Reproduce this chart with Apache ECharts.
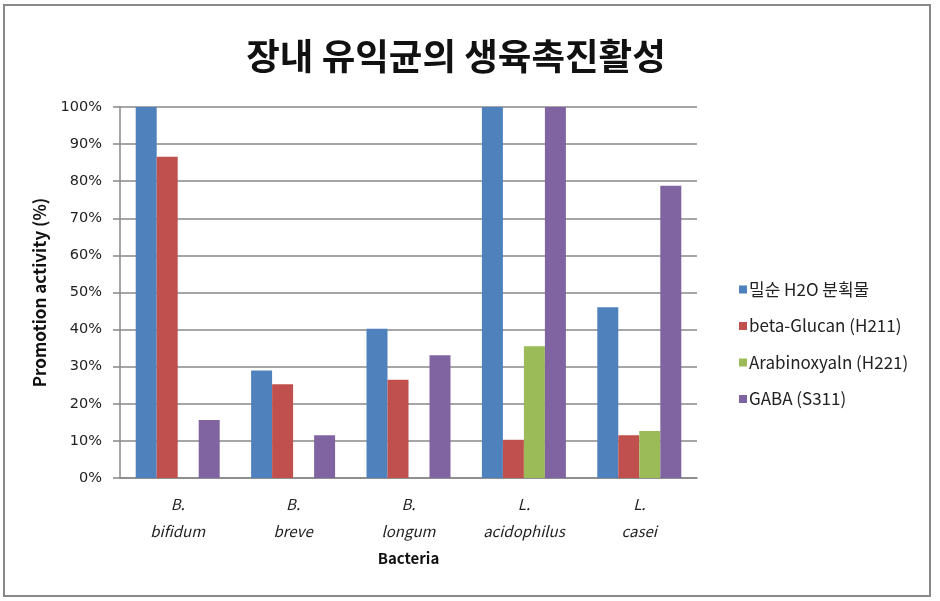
<!DOCTYPE html>
<html><head><meta charset="utf-8">
<script src="https://cdn.jsdelivr.net/npm/echarts@6/dist/echarts.min.js"></script>
<style>html,body{margin:0;padding:0;background:#fff}#c{width:940px;height:601px}</style>
</head><body><div id="c"></div>
<script>
const titleText = '장내 유익균의 생육촉진활성';
const categories = ['B.\nbifidum', 'B.\nbreve', 'B.\nlongum', 'L.\nacidophilus', 'L.\ncasei'];
const seriesNames = ['밀순 H2O 분획물', 'beta-Glucan (H211)', 'Arabinoxyaln (H221)', 'GABA (S311)'];
const waterFraction = [100, 29.0, 40.2, 100, 46.0];
const betaGlucan = [86.6, 25.3, 26.5, 10.3, 11.5];
const arabinoxylan = [0, 0, 0, 35.5, 12.7];
const gaba = [15.6, 11.5, 33.1, 100, 78.8];
const yTicks = [0, 10, 20, 30, 40, 50, 60, 70, 80, 90, 100];
const colors = ['#4F81BD', '#C0504D', '#9BBB59', '#8064A2'];
const seriesData = [waterFraction, betaGlucan, arabinoxylan, gaba];

const font = '"Noto Sans CJK KR", "Noto Sans", sans-serif';
const chart = echarts.init(document.getElementById('c'), null, {renderer: 'canvas'});
chart.setOption({
  animation: false,
  color: colors,
  textStyle: {fontFamily: font},
  title: {
    text: titleText, left: 451, textAlign: 'center', top: 33,
    textStyle: {fontSize: 36.5, fontWeight: 'bold', color: '#111', fontFamily: font}
  },
  legend: {
    orient: 'vertical', left: 734, top: 276, itemWidth: 8, itemHeight: 8, itemGap: 19.5,
    icon: 'rect',
    textStyle: {fontSize: 17, color: '#222', fontFamily: font, padding: [0, 0, 0, -3]},
    data: seriesNames
  },
  grid: {left: 120, top: 107, right: 243, bottom: 123, containLabel: false},
  xAxis: {
    type: 'category', data: categories,
    name: 'Bacteria', nameLocation: 'middle', nameGap: 73,
    nameTextStyle: {fontSize: 15, fontWeight: 'bold', color: '#111', fontFamily: font},
    axisLine: {lineStyle: {color: '#888', width: 1.5}},
    axisTick: {show: false},
    axisLabel: {fontSize: 15, fontStyle: 'italic', color: '#222', lineHeight: 27, margin: 13, fontFamily: font}
  },
  yAxis: {
    type: 'value', min: 0, max: 100, interval: 10,
    name: 'Promotion activity (%)', nameLocation: 'middle', nameRotate: 90, nameGap: 72,
    nameTextStyle: {fontSize: 17, fontWeight: 'bold', color: '#111', fontFamily: font},
    axisLine: {show: true, lineStyle: {color: '#888', width: 1.5}},
    axisTick: {show: true, length: 7, inside: false, lineStyle: {color: '#888', width: 1.5}},
    splitLine: {lineStyle: {color: '#888', width: 1.5}},
    axisLabel: {formatter: v => yTicks.includes(v) ? v + '%' : '', fontSize: 14.5, color: '#222', margin: 18, fontFamily: '"DejaVu Sans", sans-serif'}
  },
  graphic: [
    {type: 'rect', shape: {x: 4, y: 5, width: 926, height: 591}, style: {fill: 'none', stroke: '#888', lineWidth: 2}, z: -1}
  ],
  series: seriesNames.map((n, i) => ({
    name: n, type: 'bar', data: seriesData[i], barWidth: 21, barGap: '0%', barCategoryGap: '27%'
  }))
});
</script></body></html>
